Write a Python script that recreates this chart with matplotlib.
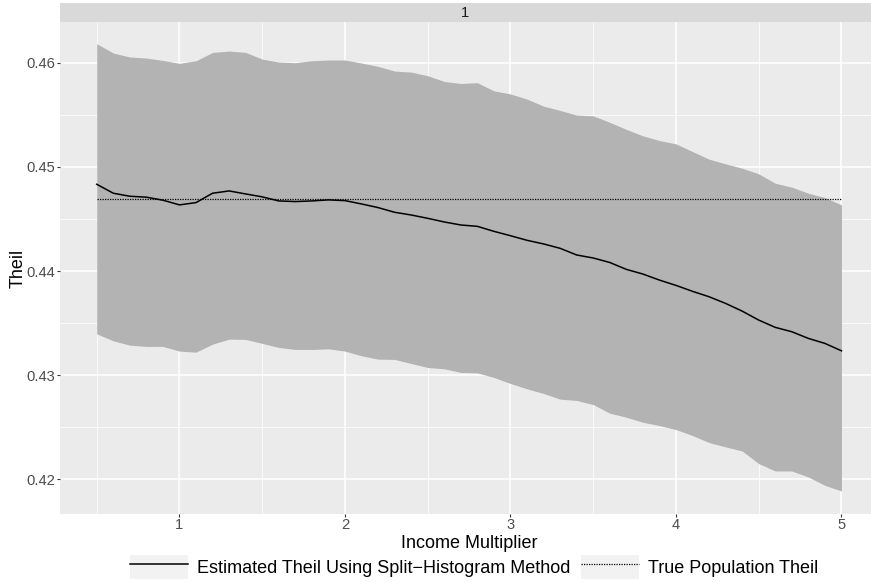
import numpy as np
import matplotlib
matplotlib.use("Agg")
import matplotlib.pyplot as plt
from matplotlib.patches import Rectangle
from matplotlib.lines import Line2D

plt.rcParams['font.family'] = ['Liberation Sans', 'DejaVu Sans']

# income multiplier values 0.5 .. 5.0
multiplier = [0.5, 0.6, 0.7, 0.8, 0.9, 1.0, 1.1, 1.2, 1.3, 1.4, 1.5, 1.6, 1.7, 1.8, 1.9,
              2.0, 2.1, 2.2, 2.3, 2.4, 2.5, 2.6, 2.7, 2.8, 2.9, 3.0, 3.1, 3.2, 3.3, 3.4,
              3.5, 3.6, 3.7, 3.8, 3.9, 4.0, 4.1, 4.2, 4.3, 4.4, 4.5, 4.6, 4.7, 4.8, 4.9, 5.0]

est_theil = [0.44833, 0.44747, 0.44718, 0.44709, 0.44680, 0.44635, 0.44657, 0.44747, 0.44769,
             0.44740, 0.44712, 0.44673, 0.44667, 0.44673, 0.44683, 0.44676, 0.44644, 0.44609,
             0.44564, 0.44538, 0.44506, 0.44471, 0.44442, 0.44429, 0.44381, 0.44339, 0.44295,
             0.44260, 0.44218, 0.44154, 0.44125, 0.44082, 0.44016, 0.43971, 0.43913, 0.43862,
             0.43805, 0.43753, 0.43689, 0.43615, 0.43529, 0.43459, 0.43417, 0.43353, 0.43305,
             0.43234]

upper = [0.46183, 0.46093, 0.46055, 0.46045, 0.46022, 0.45994, 0.46019, 0.46099, 0.46112,
         0.46099, 0.46035, 0.46006, 0.46000, 0.46019, 0.46026, 0.46026, 0.45997, 0.45965,
         0.45920, 0.45910, 0.45875, 0.45820, 0.45801, 0.45808, 0.45730, 0.45700, 0.45651,
         0.45583, 0.45542, 0.45497, 0.45490, 0.45428, 0.45360, 0.45298, 0.45253, 0.45221,
         0.45147, 0.45074, 0.45029, 0.44987, 0.44933, 0.44843, 0.44805, 0.44747, 0.44705,
         0.44635]

lower = [0.43397, 0.43330, 0.43288, 0.43276, 0.43276, 0.43231, 0.43221, 0.43298, 0.43346,
         0.43343, 0.43305, 0.43266, 0.43247, 0.43247, 0.43253, 0.43231, 0.43186, 0.43154,
         0.43151, 0.43112, 0.43074, 0.43061, 0.43026, 0.43022, 0.42978, 0.42920, 0.42869,
         0.42824, 0.42770, 0.42757, 0.42718, 0.42635, 0.42596, 0.42548, 0.42516, 0.42478,
         0.42420, 0.42353, 0.42311, 0.42272, 0.42151, 0.42080, 0.42080, 0.42022, 0.41942,
         0.41888]

true_theil = 0.44695

x_ticks = [1, 2, 3, 4, 5]
y_ticks = [0.42, 0.43, 0.44, 0.45, 0.46]

W, H = 871, 582
fig = plt.figure(figsize=(W / 100, H / 100), dpi=100)
# panel runs a bit past the right edge, as in the reference
left, right, top, bottom = 59.5, 878.7, 22, 514
ax = fig.add_axes([left / W, 1 - bottom / H, (right - left) / W, (bottom - top) / H])
ax.set_facecolor('#EBEBEB')

ax.fill_between(multiplier, lower, upper, color='#B3B3B3', lw=0, zorder=2)
ax.plot(multiplier, est_theil, color='black', lw=1.1, zorder=3)
ax.plot(multiplier, [true_theil] * len(multiplier), color='black', lw=0.9,
        linestyle=(0, (1, 1)), zorder=3)

ax.set_xlim(0.275, 5.225)
ax.set_ylim(0.41667, 0.46391)
ax.set_xticks(x_ticks)
ax.set_xticklabels([str(t) for t in x_ticks])
ax.set_yticks(y_ticks)
ax.set_yticklabels(['%.2f' % t for t in y_ticks])
ax.set_xticks([0.5, 1.5, 2.5, 3.5, 4.5], minor=True)
ax.set_yticks([0.425, 0.435, 0.445, 0.455], minor=True)
ax.grid(which='major', color='white', lw=1.1, zorder=1)
ax.grid(which='minor', color='white', lw=0.55, zorder=1)
ax.set_axisbelow(True)
for s in ax.spines.values():
    s.set_visible(False)
ax.tick_params(which='major', length=2.2, width=0.8, color='#333333',
               labelcolor='#4D4D4D', labelsize=10.6, pad=1)
ax.tick_params(which='minor', length=0)

ax.set_xlabel('Income Multiplier', fontsize=13, labelpad=2)
ax.set_ylabel('Theil', fontsize=13, labelpad=0)

# facet strip
strip = fig.add_axes([left / W, 1 - top / H, (right - left) / W, 18.7 / H])
strip.set_facecolor('#D9D9D9')
strip.set_xticks([])
strip.set_yticks([])
for s in strip.spines.values():
    s.set_visible(False)
strip.text((464.5 - left) / (right - left), 0.5, '1', ha='center', va='center',
           fontsize=10.6, color='#1A1A1A', transform=strip.transAxes)

key_bg = dict(facecolor='#F2F2F2', edgecolor='none')
h1 = (Rectangle((0, 0), 1, 1, **key_bg), Line2D([], [], color='black', lw=1.1))
h2 = (Rectangle((0, 0), 1, 1, **key_bg),
      Line2D([], [], color='black', lw=0.9, linestyle=(0, (1, 1))))
fig.legend([h1, h2], ['Estimated Theil Using Split\u2212Histogram Method', 'True Population Theil'],
           loc='center', bbox_to_anchor=(474 / W, 1 - 567 / H), ncol=2, frameon=False,
           fontsize=13, handlelength=3.2, handleheight=1.6, handletextpad=0.5,
           columnspacing=0.6, borderaxespad=0, borderpad=0)

fig.savefig('out.png', dpi=100)
